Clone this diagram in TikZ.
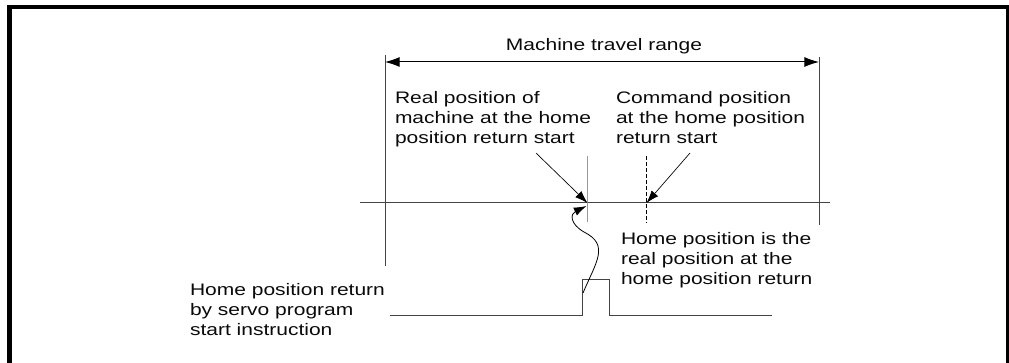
\documentclass[tikz,border=0pt]{standalone}
\usepackage{fontspec}
\setmainfont{Liberation Sans}[FakeStretch=1.26]
\usetikzlibrary{arrows.meta}
\definecolor{txt}{HTML}{0A0A0A}
\definecolor{ln}{HTML}{444444}
\definecolor{lgray}{HTML}{999999}
\begin{document}
\begin{tikzpicture}[x=0.75pt,y=-0.75pt,
  lbl/.style={inner sep=0pt, outer sep=0pt, align=left, text=txt,
    font=\fontsize{12.5}{15}\selectfont, anchor=north west},
  thin line/.style={draw=ln, line width=0.75pt},
  tip/.style={-{Latex[length=9.5pt,width=6.5pt]}},
  dimtip/.style={{Latex[length=11pt,width=7.5pt]}-{Latex[length=11pt,width=7.5pt]}}
]
\useasboundingbox (0,0) rectangle (1009,363);
\clip (0,0) rectangle (1009,363);
% frame (open at bottom)
\draw[line width=3.4pt] (9.5,380) -- (9.5,7) -- (1007.8,7) -- (1007.8,380);

% coordinates
\coordinate (axL) at (360,203);
\coordinate (axR) at (830,203);
\coordinate (vLt) at (385,55);
\coordinate (vLb) at (385,266);
\coordinate (vRt) at (819,57);
\coordinate (vRb) at (819,225);
\coordinate (dL) at (385,62);
\coordinate (dR) at (819,62);
\coordinate (realT) at (587.5,156);
\coordinate (realB) at (587.5,222);
\coordinate (realP) at (587.5,203);
\coordinate (cmdT) at (646.5,156);
\coordinate (cmdB) at (646.5,223);
\coordinate (cmdP) at (646.5,203);
\coordinate (realS) at (536,153);
\coordinate (cmdS) at (690,153);
\coordinate (p0) at (390,315);
\coordinate (p1) at (582.5,315);
\coordinate (p2) at (582.5,279);
\coordinate (p3) at (609,279);
\coordinate (p4) at (609,315);
\coordinate (p5) at (772,315);
\coordinate (wS) at (583,293);
\coordinate (wM) at (584,232);
\coordinate (wE) at (586.5,206);

% axis and bounds
\draw[thin line] (axL) -- (axR);
\draw[thin line] (vLt) -- (vLb);
\draw[thin line] (vRt) -- (vRb);
\draw[thin line, dimtip, draw=black] (dL) -- (dR);

% position markers
\draw[draw=lgray, line width=1.2pt] (realT) -- (realB);
\draw[black, line width=0.75pt, dash pattern=on 3pt off 1.5pt] (cmdT) -- (cmdB);

% pointers
\draw[black, line width=0.5pt, tip] (realS) -- (realP);
\draw[black, line width=0.5pt, tip] (cmdS) -- (cmdP);

% pulse
\draw[draw=ln, line width=0.75pt] (p0) -- (p1) -- (p2) -- (p3) -- (p4) -- (p5);

% wavy pointer
\draw[black, line width=0.6pt, tip] (wS) .. controls (596,262) and (610,245) .. (wM) .. controls (570,224) and (570,214) .. (wE);

% labels
\node[lbl, anchor=north] (mtr) at (604,38) {Machine travel range};
\node[lbl] (real) at (395,91.5) {Real position of\\machine at the home\\position return start};
\node[lbl] (cmd) at (616,91) {Command position\\at the home position\\return start};
\node[lbl] (home) at (621,232) {Home position is the\\real position at the\\home position return};
\node[lbl] (srv) at (190,283.5) {Home position return\\by servo program\\start instruction};
\end{tikzpicture}
\end{document}
